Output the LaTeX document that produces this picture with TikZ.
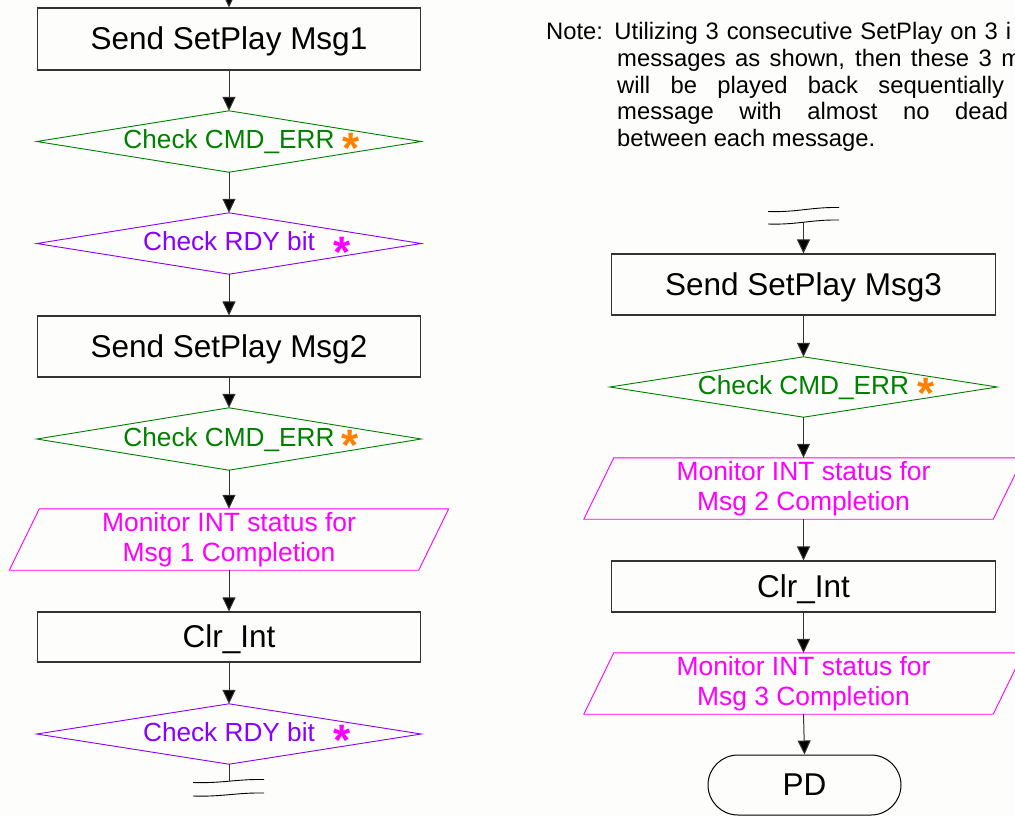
\documentclass[tikz,border=0pt]{standalone}
\usepackage{fontspec}
\setmainfont{Liberation Sans}
\usetikzlibrary{arrows.meta,calc}
\definecolor{cmdgreen}{RGB}{0,128,0}
\definecolor{rdypurple}{RGB}{136,0,255}
\definecolor{intmag}{RGB}{255,0,255}
\definecolor{starorange}{RGB}{255,128,0}
\definecolor{edgegray}{RGB}{51,51,51}
\definecolor{bgpaper}{RGB}{253,253,251}
\begin{document}
\begin{tikzpicture}[x=1pt,y=-1pt,
  procbox/.style={draw=edgegray, line width=1.1pt, minimum width=383pt, inner sep=0pt,
    text height=21.5pt, text depth=0pt, font=\fontsize{31.5}{36}\selectfont},
  decbox/.style={minimum width=384pt, minimum height=61pt, inner sep=0pt,
    text height=16pt, text depth=2pt, font=\fontsize{26.2}{30}\selectfont},
  decedge/.style={line width=0.9pt},
  iobox/.style={minimum width=409pt, minimum height=61pt, inner sep=0pt, text=intmag,
    align=center, font=\fontsize{26.4}{30}\selectfont},
  ioedge/.style={draw=intmag, line width=0.9pt},
  termbox/.style={draw=black, line width=1pt, rounded corners=30pt, minimum width=193pt,
    minimum height=60pt, inner sep=0pt, text height=21.5pt, text depth=0pt,
    font=\fontsize{31.5}{36}\selectfont},
  star/.style={anchor=base, inner sep=0pt, font=\fontsize{44}{44}\selectfont\bfseries},
  notetext/.style={anchor=base west, inner sep=0pt, font=\fontsize{23.8}{27}\selectfont},
  flow/.style={draw=edgegray, line width=1pt, -{Triangle[width=13pt,length=14pt,fill=black]}},
  plainflow/.style={draw=edgegray, line width=1pt},
  breakline/.style={draw=black, line width=0.9pt}
]
\useasboundingbox (0,0) rectangle (1015,815);
\fill[bgpaper] (0,0) rectangle (1015,815);
\clip (0,0) rectangle (1015,815);

% ---------- left column ----------
\coordinate (topL) at (229,-3);
\node[procbox, minimum height=62pt] (b1) at (229,39) {Send SetPlay Msg1};
\node[decbox, text=cmdgreen] (d1) at (229,141.5) {Check CMD\_ERR};
\draw[decedge, draw=cmdgreen] (d1.north) -- (d1.east) -- (d1.south) -- (d1.west) -- cycle;
\node[star, text=starorange] (s1) at (351,163.5) {*};
\node[decbox, text=rdypurple] (d2) at (229,243.5) {Check RDY bit};
\draw[decedge, draw=rdypurple] (d2.north) -- (d2.east) -- (d2.south) -- (d2.west) -- cycle;
\node[star, text=intmag] (s2) at (342.5,267.5) {*};
\node[procbox, minimum height=61pt] (b2) at (229,346.5) {Send SetPlay Msg2};
\node[decbox, text=cmdgreen, minimum height=62pt] (d3) at (229,439) {Check CMD\_ERR};
\draw[decedge, draw=cmdgreen] (d3.north) -- (d3.east) -- (d3.south) -- (d3.west) -- cycle;
\node[star, text=starorange] (s3) at (350.5,460) {*};
\node[iobox] (p1) at (229,539.5) {Monitor INT status for\\Msg 1 Completion};
\draw[ioedge] ($(p1.south west)+(-15,0)$) -- ($(p1.north west)+(15,0)$) -- ($(p1.north east)+(15,0)$) -- ($(p1.south east)+(-15,0)$) -- cycle;
\node[procbox, minimum height=50pt] (b3) at (229,637) {Clr\_Int};
\node[decbox, text=rdypurple, minimum height=60pt] (d4) at (229,734) {Check RDY bit};
\draw[decedge, draw=rdypurple] (d4.north) -- (d4.east) -- (d4.south) -- (d4.west) -- cycle;
\node[star, text=intmag] (s4) at (342.5,755.5) {*};
\coordinate (brkL) at (229,781);

\draw[flow] (topL) -- (b1.north);
\draw[flow] (b1.south) -- (d1.north);
\draw[flow] (d1.south) -- (d2.north);
\draw[flow] (d2.south) -- (b2.north);
\draw[flow] (b2.south) -- (d3.north);
\draw[flow] (d3.south) -- (p1.north);
\draw[flow] (p1.south) -- (b3.north);
\draw[flow] (b3.south) -- (d4.north);
\draw[plainflow] (d4.south) -- (brkL);
\draw[breakline] (193,782.5) .. controls (222,783.5) and (236,779) .. (264,779.5);
\draw[breakline] (193,796) .. controls (222,797) and (236,792.5) .. (264,793);

% ---------- note ----------
\node[notetext] (n1) at (546,39) {\makebox[465pt][s]{Note: Utilizing 3 consecutive SetPlay on 3 i}};
\node[notetext] (n2) at (617,66) {\makebox[404pt][s]{messages as shown, then these 3 m}};
\node[notetext] (n3) at (617,93) {\makebox[387pt][s]{will be played back sequentially}};
\node[notetext] (n4) at (617,119.5) {\makebox[391pt][s]{message with almost no dead}};
\node[notetext] (n5) at (617,146.5) {between each message.};

% ---------- right column ----------
\draw[breakline] (768,211.5) .. controls (797,212.5) and (811,207) .. (839,207.5);
\draw[breakline] (768,224) .. controls (797,225) and (811,219.5) .. (839,220);
\coordinate (brkR) at (803.5,222);
\node[procbox, minimum width=384pt, minimum height=61pt] (r1) at (803.5,284.5) {Send SetPlay Msg3};
\node[decbox, text=cmdgreen, minimum width=387pt, minimum height=60pt] (r2) at (803.5,387) {Check CMD\_ERR};
\draw[decedge, draw=cmdgreen] (r2.north) -- (r2.east) -- (r2.south) -- (r2.west) -- cycle;
\node[star, text=starorange] (s5) at (926.5,408.5) {*};
\node[iobox] (r3) at (803.5,488.5) {Monitor INT status for\\Msg 2 Completion};
\draw[ioedge] ($(r3.south west)+(-15,0)$) -- ($(r3.north west)+(15,0)$) -- ($(r3.north east)+(15,0)$) -- ($(r3.south east)+(-15,0)$) -- cycle;
\node[procbox, minimum width=384pt, minimum height=51pt] (r4) at (803.5,586.5) {Clr\_Int};
\node[iobox] (r5) at (803.5,683.5) {Monitor INT status for\\Msg 3 Completion};
\draw[ioedge] ($(r5.south west)+(-15,0)$) -- ($(r5.north west)+(15,0)$) -- ($(r5.north east)+(15,0)$) -- ($(r5.south east)+(-15,0)$) -- cycle;
\node[termbox] (r6) at (804.5,785) {PD};

\draw[flow] (brkR) -- (r1.north);
\draw[flow] (r1.south) -- (r2.north);
\draw[flow] (r2.south) -- (r3.north);
\draw[flow] (r3.south) -- (r4.north);
\draw[flow] (r4.south) -- (r5.north);
\draw[flow] (r5.south) -- (r6.north);
\end{tikzpicture}
\end{document}
